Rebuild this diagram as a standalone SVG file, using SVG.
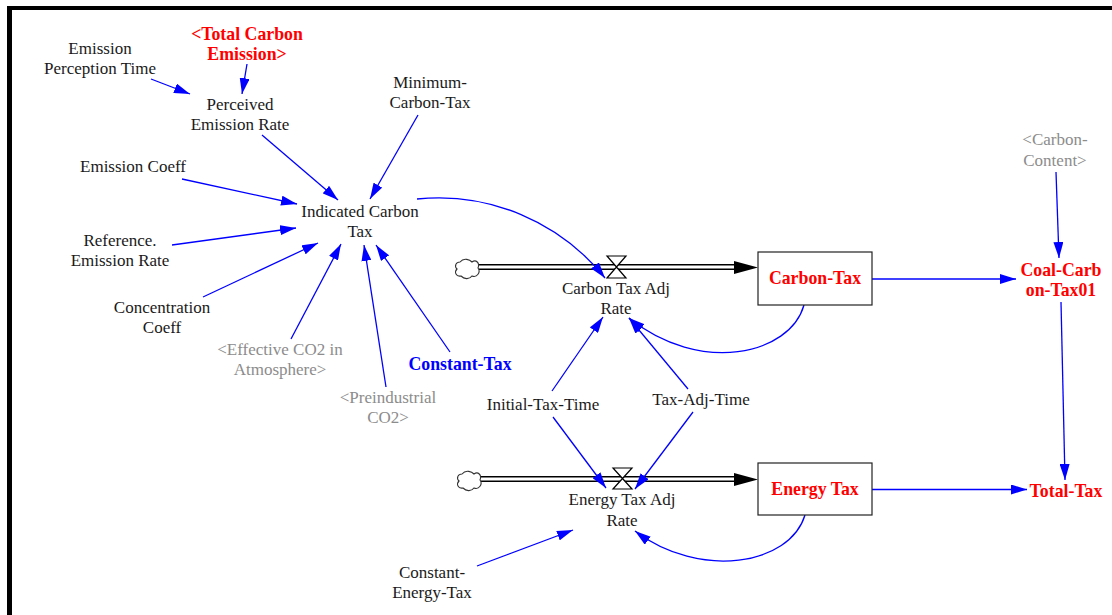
<svg xmlns="http://www.w3.org/2000/svg" width="1112" height="615" viewBox="0 0 1112 615" font-family="'Liberation Serif', 'Times New Roman', Times, serif">
<style>
text{font-family:'Liberation Serif','Times New Roman',Times,serif;font-size:17px;text-anchor:middle;fill:#1a1a1a}
.red{fill:#ff0000;font-weight:bold;font-size:17.8px}
.blue{fill:#0000ff;font-weight:bold;font-size:17.8px}
.grey{fill:#8c8c8c}
.link{fill:none;stroke:#0000ff;stroke-width:1.3;marker-end:url(#ah)}
.box{fill:#fff;stroke:#222;stroke-width:1.2}
.valve{fill:#fff;stroke:#000;stroke-width:1.2}
.cloud{fill:#fff;stroke:#333;stroke-width:1.1}
</style>
<defs>
<marker id="ah" markerUnits="userSpaceOnUse" markerWidth="16" markerHeight="10" viewBox="0 0 16 10" refX="16" refY="5" orient="auto">
<path d="M0,0 L16,5 L0,10 z" fill="#0000ff"/>
</marker>
</defs>
<rect x="0" y="0" width="1112" height="615" fill="#fff"/>
<rect x="7" y="6" width="1105" height="4" fill="#000"/>
<rect x="7" y="6" width="5" height="609" fill="#000"/>

<g id="flows">
<path d="M478,267 H736" stroke="#000" stroke-width="6" fill="none"/>
<path d="M478,267 H738" stroke="#fff" stroke-width="3" fill="none"/>
<path d="M734,261 L758,267.5 L734,274 z" fill="#000"/>
<path d="M480,479 H736" stroke="#000" stroke-width="6" fill="none"/>
<path d="M480,479 H738" stroke="#fff" stroke-width="3" fill="none"/>
<path d="M734,473 L758,479.5 L734,486 z" fill="#000"/>
</g>

<g id="connectors">
<path class="link" d="M151,79 L190,94"/>
<path class="link" d="M247,64 L242,94"/>
<path class="link" d="M262,135 L338,200"/>
<path class="link" d="M418,115 L370,199"/>
<path class="link" d="M182,179 L297,204"/>
<path class="link" d="M172,245 L296,228"/>
<path class="link" d="M203,297 L318,243"/>
<path class="link" d="M291,339 L341,244"/>
<path class="link" d="M386,387 L364,245"/>
<path class="link" d="M450,352 L376,245"/>
<path class="link" d="M417,199 A213,213 0 0 1 605,278"/>
<path class="link" d="M804,305 C790,355 700,375 629,318"/>
<path class="link" d="M552,391 L603,317"/>
<path class="link" d="M688,389 L629,318"/>
<path class="link" d="M553,417 L606,488"/>
<path class="link" d="M693,412 L635,489"/>
<path class="link" d="M477,566 L573,530"/>
<path class="link" d="M805,515 C790,565 700,580 635,531"/>
<path class="link" d="M872,279 L1016,279"/>
<path class="link" d="M1056,172 L1059,258"/>
<path class="link" d="M1061,302 L1065,480"/>
<path class="link" d="M872,489.5 L1027,489.5"/>
</g>

<g id="cloud1"><path class="cloud" d="M460,262 C464,257 470,260 472,262 C476,259 480,263 478,268 C481,272 477,278 472,276 C469,280 464,279 461,276 C456,277 454,272 457,269 C454,266 456,262 460,262 z"/></g>
<g id="cloud2"><path class="cloud" d="M462,474 C466,469 472,472 474,474 C478,471 482,475 480,480 C483,484 479,490 474,488 C471,492 466,491 463,488 C458,489 456,484 459,481 C456,478 458,474 462,474 z"/></g>

<g id="carbon-valve"><path class="valve" d="M607,256 L626,256 L607,278 L626,278 z"/></g>
<g id="energy-valve"><path class="valve" d="M613,468 L632,468 L613,489 L632,489 z"/></g>

<g id="carbon-tax"><rect class="box" x="758" y="252" width="114" height="53"/><text class="red" x="815" y="284">Carbon-Tax</text></g>
<g id="energy-tax"><rect class="box" x="758" y="463" width="114" height="52"/><text class="red" x="815" y="495">Energy Tax</text></g>

<g id="emission-perception-time"><text x="100" y="54">Emission</text><text x="100" y="74">Perception Time</text></g>
<g id="total-carbon-emission"><text class="red" x="247" y="40">&lt;Total Carbon</text><text class="red" x="247" y="60">Emission&gt;</text></g>
<g id="perceived-emission-rate"><text x="240" y="110">Perceived</text><text x="240" y="130">Emission Rate</text></g>
<g id="minimum-carbon-tax"><text x="430" y="88">Minimum-</text><text x="430" y="108">Carbon-Tax</text></g>
<g id="emission-coeff"><text x="133" y="172">Emission Coeff</text></g>
<g id="indicated-carbon-tax"><text x="360" y="217">Indicated Carbon</text><text x="360" y="237">Tax</text></g>
<g id="reference-emission-rate"><text x="120" y="246">Reference.</text><text x="120" y="266">Emission Rate</text></g>
<g id="concentration-coeff"><text x="162" y="313">Concentration</text><text x="162" y="333">Coeff</text></g>
<g id="effective-co2"><text class="grey" x="280" y="355">&lt;Effective CO2 in</text><text class="grey" x="280" y="375">Atmosphere&gt;</text></g>
<g id="constant-tax"><text class="blue" x="460" y="370">Constant-Tax</text></g>
<g id="preindustrial-co2"><text class="grey" x="388" y="403">&lt;Preindustrial</text><text class="grey" x="388" y="423">CO2&gt;</text></g>
<g id="carbon-tax-adj-rate"><text x="616" y="294">Carbon Tax Adj</text><text x="616" y="314">Rate</text></g>
<g id="initial-tax-time"><text x="543" y="410">Initial-Tax-Time</text></g>
<g id="tax-adj-time"><text x="701" y="405">Tax-Adj-Time</text></g>
<g id="energy-tax-adj-rate"><text x="622" y="505">Energy Tax Adj</text><text x="622" y="526">Rate</text></g>
<g id="constant-energy-tax"><text x="432" y="578">Constant-</text><text x="432" y="598">Energy-Tax</text></g>
<g id="carbon-content"><text class="grey" x="1055" y="145">&lt;Carbon-</text><text class="grey" x="1055" y="166">Content&gt;</text></g>
<g id="coal-carbon-tax01"><text class="red" x="1061" y="276">Coal-Carb</text><text class="red" x="1061" y="296">on-Tax01</text></g>
<g id="total-tax"><text class="red" x="1066" y="497">Total-Tax</text></g>
</svg>
